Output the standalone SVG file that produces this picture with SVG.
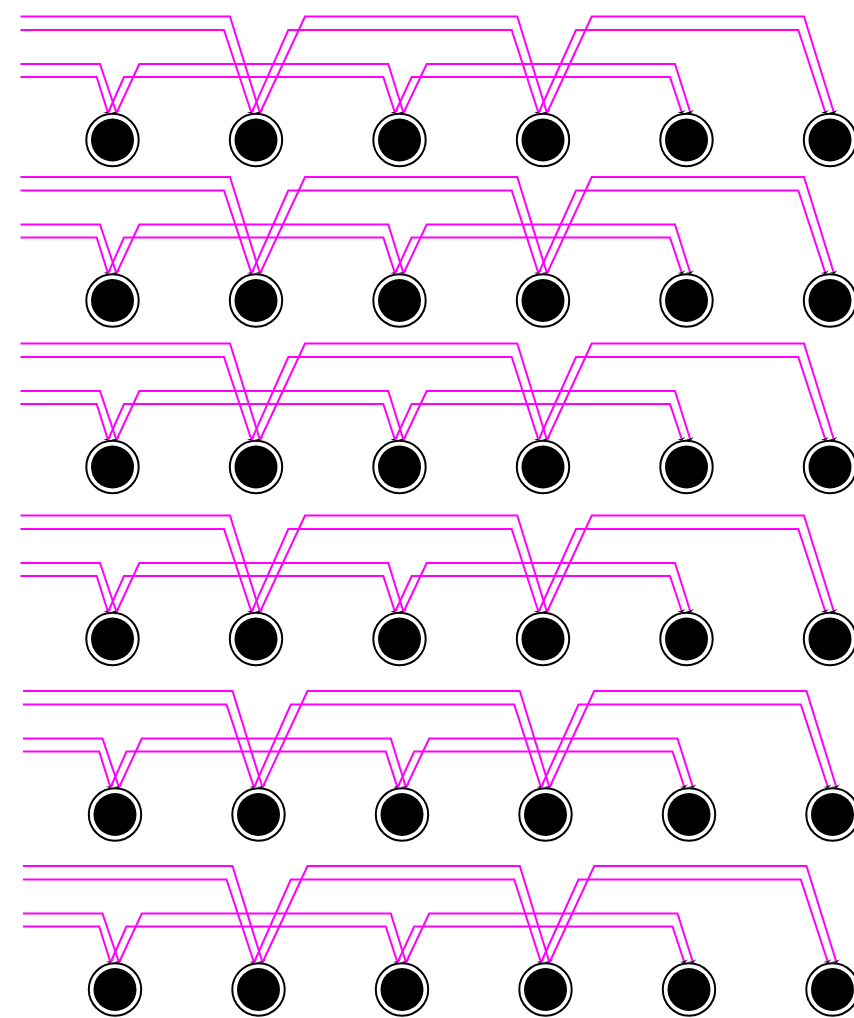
<svg xmlns="http://www.w3.org/2000/svg" width="854" height="1018" viewBox="0 0 854 1018">
<style>
.e{fill:none;stroke:#ff00ff;stroke-width:2;stroke-linejoin:miter;marker-end:url(#ah)}
.ring{fill:#fff;stroke:#000;stroke-width:2}
.core{fill:#000}
</style>
<defs>
<marker id="ah" markerUnits="userSpaceOnUse" markerWidth="12" markerHeight="12" viewBox="-6 -6 12 12" refX="0" refY="0" orient="auto" overflow="visible">
<path d="M0.5,0 L-2,-4.2 L-1.2,0 L-2,4.2 Z" fill="#000"/>
</marker>
<g id="node">
<circle class="ring" cx="0" cy="0" r="26.2"/>
<circle class="core" cx="0" cy="0" r="21.5"/>
</g>
</defs>
<rect width="854" height="1018" fill="#fff"/>

<!-- Row 1 -->
<g id="row1" transform="translate(0,16.5)">
<g id="r1n1"><use href="#node" x="112.5" y="123.5"/></g>
<g id="r1n2"><use href="#node" x="256" y="123.5"/></g>
<g id="r1n3"><use href="#node" x="399.5" y="123.5"/></g>
<g id="r1n4"><use href="#node" x="543" y="123.5"/></g>
<g id="r1n5"><use href="#node" x="686.5" y="123.5"/></g>
<g id="r1n6"><use href="#node" x="830" y="123.5"/></g>
<g id="connectors1">
<path class="e" d="M20.5,47.5H100L116.5,96.5"/>
<path class="e" d="M20.5,60.5H96.7L108,96.5"/>
<path class="e" d="M116.5,96.5L139.3,47.5H388.3L403.5,96.5"/>
<path class="e" d="M108,96.5L124,60.5H383.3L395,96.5"/>
<path class="e" d="M403.5,96.5L426.7,47.5H675L690.5,96.5"/>
<path class="e" d="M395,96.5L411.7,60.5H670L682,96.5"/>
<path class="e" d="M20.5,0H230L260,96.5"/>
<path class="e" d="M20.5,13.5H224L251.5,96.5"/>
<path class="e" d="M260,96.5L305,0H517.3L547,96.5"/>
<path class="e" d="M251.5,96.5L288.3,13.5H511.7L538.5,96.5"/>
<path class="e" d="M547,96.5L591.7,0H804L834,96.5"/>
<path class="e" d="M538.5,96.5L576,13.5H798.3L825.5,96.5"/>
</g>
</g>

<!-- Row 2 -->
<g id="row2" transform="translate(0,177)">
<g id="r2n1"><use href="#node" x="112.5" y="123.5"/></g>
<g id="r2n2"><use href="#node" x="256" y="123.5"/></g>
<g id="r2n3"><use href="#node" x="399.5" y="123.5"/></g>
<g id="r2n4"><use href="#node" x="543" y="123.5"/></g>
<g id="r2n5"><use href="#node" x="686.5" y="123.5"/></g>
<g id="r2n6"><use href="#node" x="830" y="123.5"/></g>
<g id="connectors2">
<path class="e" d="M20.5,47.5H100L116.5,96.5"/>
<path class="e" d="M20.5,60.5H96.7L108,96.5"/>
<path class="e" d="M116.5,96.5L139.3,47.5H388.3L403.5,96.5"/>
<path class="e" d="M108,96.5L124,60.5H383.3L395,96.5"/>
<path class="e" d="M403.5,96.5L426.7,47.5H675L690.5,96.5"/>
<path class="e" d="M395,96.5L411.7,60.5H670L682,96.5"/>
<path class="e" d="M20.5,0H230L260,96.5"/>
<path class="e" d="M20.5,13.5H224L251.5,96.5"/>
<path class="e" d="M260,96.5L305,0H517.3L547,96.5"/>
<path class="e" d="M251.5,96.5L288.3,13.5H511.7L538.5,96.5"/>
<path class="e" d="M547,96.5L591.7,0H804L834,96.5"/>
<path class="e" d="M538.5,96.5L576,13.5H798.3L825.5,96.5"/>
</g>
</g>

<!-- Row 3 -->
<g id="row3" transform="translate(0,343.5)">
<g id="r3n1"><use href="#node" x="112.5" y="123.5"/></g>
<g id="r3n2"><use href="#node" x="256" y="123.5"/></g>
<g id="r3n3"><use href="#node" x="399.5" y="123.5"/></g>
<g id="r3n4"><use href="#node" x="543" y="123.5"/></g>
<g id="r3n5"><use href="#node" x="686.5" y="123.5"/></g>
<g id="r3n6"><use href="#node" x="830" y="123.5"/></g>
<g id="connectors3">
<path class="e" d="M20.5,47.5H100L116.5,96.5"/>
<path class="e" d="M20.5,60.5H96.7L108,96.5"/>
<path class="e" d="M116.5,96.5L139.3,47.5H388.3L403.5,96.5"/>
<path class="e" d="M108,96.5L124,60.5H383.3L395,96.5"/>
<path class="e" d="M403.5,96.5L426.7,47.5H675L690.5,96.5"/>
<path class="e" d="M395,96.5L411.7,60.5H670L682,96.5"/>
<path class="e" d="M20.5,0H230L260,96.5"/>
<path class="e" d="M20.5,13.5H224L251.5,96.5"/>
<path class="e" d="M260,96.5L305,0H517.3L547,96.5"/>
<path class="e" d="M251.5,96.5L288.3,13.5H511.7L538.5,96.5"/>
<path class="e" d="M547,96.5L591.7,0H804L834,96.5"/>
<path class="e" d="M538.5,96.5L576,13.5H798.3L825.5,96.5"/>
</g>
</g>

<!-- Row 4 -->
<g id="row4" transform="translate(0,515.5)">
<g id="r4n1"><use href="#node" x="112.5" y="123.5"/></g>
<g id="r4n2"><use href="#node" x="256" y="123.5"/></g>
<g id="r4n3"><use href="#node" x="399.5" y="123.5"/></g>
<g id="r4n4"><use href="#node" x="543" y="123.5"/></g>
<g id="r4n5"><use href="#node" x="686.5" y="123.5"/></g>
<g id="r4n6"><use href="#node" x="830" y="123.5"/></g>
<g id="connectors4">
<path class="e" d="M20.5,47.5H100L116.5,96.5"/>
<path class="e" d="M20.5,60.5H96.7L108,96.5"/>
<path class="e" d="M116.5,96.5L139.3,47.5H388.3L403.5,96.5"/>
<path class="e" d="M108,96.5L124,60.5H383.3L395,96.5"/>
<path class="e" d="M403.5,96.5L426.7,47.5H675L690.5,96.5"/>
<path class="e" d="M395,96.5L411.7,60.5H670L682,96.5"/>
<path class="e" d="M20.5,0H230L260,96.5"/>
<path class="e" d="M20.5,13.5H224L251.5,96.5"/>
<path class="e" d="M260,96.5L305,0H517.3L547,96.5"/>
<path class="e" d="M251.5,96.5L288.3,13.5H511.7L538.5,96.5"/>
<path class="e" d="M547,96.5L591.7,0H804L834,96.5"/>
<path class="e" d="M538.5,96.5L576,13.5H798.3L825.5,96.5"/>
</g>
</g>

<!-- Row 5 -->
<g id="row5" transform="translate(2.5,691)">
<g id="r5n1"><use href="#node" x="112.5" y="123.5"/></g>
<g id="r5n2"><use href="#node" x="256" y="123.5"/></g>
<g id="r5n3"><use href="#node" x="399.5" y="123.5"/></g>
<g id="r5n4"><use href="#node" x="543" y="123.5"/></g>
<g id="r5n5"><use href="#node" x="686.5" y="123.5"/></g>
<g id="r5n6"><use href="#node" x="830" y="123.5"/></g>
<g id="connectors5">
<path class="e" d="M20.5,47.5H100L116.5,96.5"/>
<path class="e" d="M20.5,60.5H96.7L108,96.5"/>
<path class="e" d="M116.5,96.5L139.3,47.5H388.3L403.5,96.5"/>
<path class="e" d="M108,96.5L124,60.5H383.3L395,96.5"/>
<path class="e" d="M403.5,96.5L426.7,47.5H675L690.5,96.5"/>
<path class="e" d="M395,96.5L411.7,60.5H670L682,96.5"/>
<path class="e" d="M20.5,0H230L260,96.5"/>
<path class="e" d="M20.5,13.5H224L251.5,96.5"/>
<path class="e" d="M260,96.5L305,0H517.3L547,96.5"/>
<path class="e" d="M251.5,96.5L288.3,13.5H511.7L538.5,96.5"/>
<path class="e" d="M547,96.5L591.7,0H804L834,96.5"/>
<path class="e" d="M538.5,96.5L576,13.5H798.3L825.5,96.5"/>
</g>
</g>

<!-- Row 6 -->
<g id="row6" transform="translate(2.5,866)">
<g id="r6n1"><use href="#node" x="112.5" y="123.5"/></g>
<g id="r6n2"><use href="#node" x="256" y="123.5"/></g>
<g id="r6n3"><use href="#node" x="399.5" y="123.5"/></g>
<g id="r6n4"><use href="#node" x="543" y="123.5"/></g>
<g id="r6n5"><use href="#node" x="686.5" y="123.5"/></g>
<g id="r6n6"><use href="#node" x="830" y="123.5"/></g>
<g id="connectors6">
<path class="e" d="M20.5,47.5H100L116.5,96.5"/>
<path class="e" d="M20.5,60.5H96.7L108,96.5"/>
<path class="e" d="M116.5,96.5L139.3,47.5H388.3L403.5,96.5"/>
<path class="e" d="M108,96.5L124,60.5H383.3L395,96.5"/>
<path class="e" d="M403.5,96.5L426.7,47.5H675L690.5,96.5"/>
<path class="e" d="M395,96.5L411.7,60.5H670L682,96.5"/>
<path class="e" d="M20.5,0H230L260,96.5"/>
<path class="e" d="M20.5,13.5H224L251.5,96.5"/>
<path class="e" d="M260,96.5L305,0H517.3L547,96.5"/>
<path class="e" d="M251.5,96.5L288.3,13.5H511.7L538.5,96.5"/>
<path class="e" d="M547,96.5L591.7,0H804L834,96.5"/>
<path class="e" d="M538.5,96.5L576,13.5H798.3L825.5,96.5"/>
</g>
</g>
</svg>
